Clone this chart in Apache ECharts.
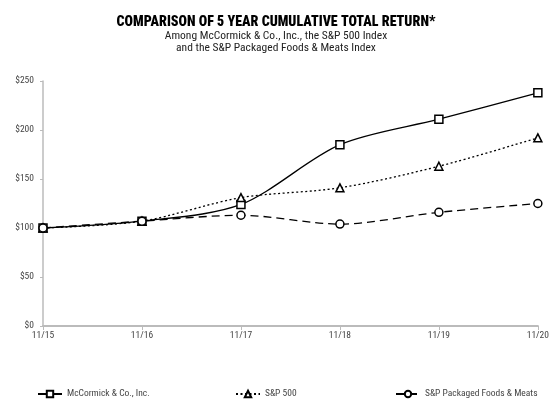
<!DOCTYPE html>
<html>
<head>
<meta charset="utf-8">
<script src="https://cdn.jsdelivr.net/npm/echarts@6/dist/echarts.min.js"></script>
<style>
  html, body { margin: 0; padding: 0; background: #fff; }
  #chart { width: 552px; height: 402px; }
</style>
</head>
<body>
<div id="chart"></div>
<script>
// data
const years = ['11/15', '11/16', '11/17', '11/18', '11/19', '11/20'];
const mccormick = [100, 107, 124, 185, 211, 238];
const sp500 = [100, 107, 131, 141, 163, 192];
const packagedFoods = [100, 107, 113, 104, 116, 125];

const font = '"Roboto Condensed", "Open Sans Condensed", sans-serif';

const chart = echarts.init(document.getElementById('chart'));

const baseSeries = (name, data, symbol, lineType, size) => ({
  name: name,
  type: 'line',
  data: data,
  smooth: 0.3,
  symbol: symbol,
  symbolSize: size,
  showAllSymbol: true,
  lineStyle: { color: '#000', width: 1.3, type: lineType },
  itemStyle: { color: '#fff', borderColor: '#000', borderWidth: 1.5 },
  z: 3
});

// one legend per item so each can sit where the reference puts it
const legendBase = {
  top: 384,
  itemWidth: 24,
  itemHeight: 8,
  itemGap: 0,
  textStyle: { fontFamily: font, fontSize: 9.5, color: '#444' }
};

chart.setOption({
  animation: false,
  title: {
    text: 'COMPARISON OF 5 YEAR CUMULATIVE TOTAL RETURN*',
    subtext: 'Among McCormick & Co., Inc., the S&P 500 Index\nand the S&P Packaged Foods & Meats Index',
    left: 'center',
    top: 10,
    itemGap: 1,
    textStyle: { fontFamily: font, fontSize: 14, fontWeight: 900, color: '#000' },
    subtextStyle: { fontFamily: font, fontSize: 11.5, color: '#222', lineHeight: 12 }
  },
  legend: [
    Object.assign({}, legendBase, { left: 32, data: ['McCormick & Co., Inc.'] }),
    Object.assign({}, legendBase, { left: 230, data: ['S&P 500'] }),
    Object.assign({}, legendBase, { left: 390, data: ['S&P Packaged Foods & Meats'] })
  ],
  grid: { left: 43, right: 12, top: 81, bottom: 76 },
  xAxis: {
    type: 'category',
    data: years,
    boundaryGap: false,
    axisLine: { lineStyle: { color: '#bbb', width: 2 } },
    axisTick: { lineStyle: { color: '#bbb' }, length: 4 },
    axisLabel: { fontFamily: font, fontSize: 9.5, color: '#444', margin: 5 },
    splitLine: { show: false }
  },
  yAxis: {
    type: 'value',
    min: 0,
    max: 250,
    interval: 50,
    axisLine: { show: true, lineStyle: { color: '#bbb', width: 1.5 } },
    axisTick: { show: true, lineStyle: { color: '#bbb' }, length: 3 },
    axisLabel: {
      fontFamily: font, fontSize: 9.5, color: '#444', margin: 9,
      formatter: v => '$' + v
    },
    splitLine: { show: false }
  },
  series: [
    baseSeries('McCormick & Co., Inc.', mccormick, 'rect', 'solid', 8),
    baseSeries('S&P 500', sp500, 'triangle', [2, 2.5], 8),
    baseSeries('S&P Packaged Foods & Meats', packagedFoods, 'circle', [8, 5], 8)
  ]
});
</script>
</body>
</html>
